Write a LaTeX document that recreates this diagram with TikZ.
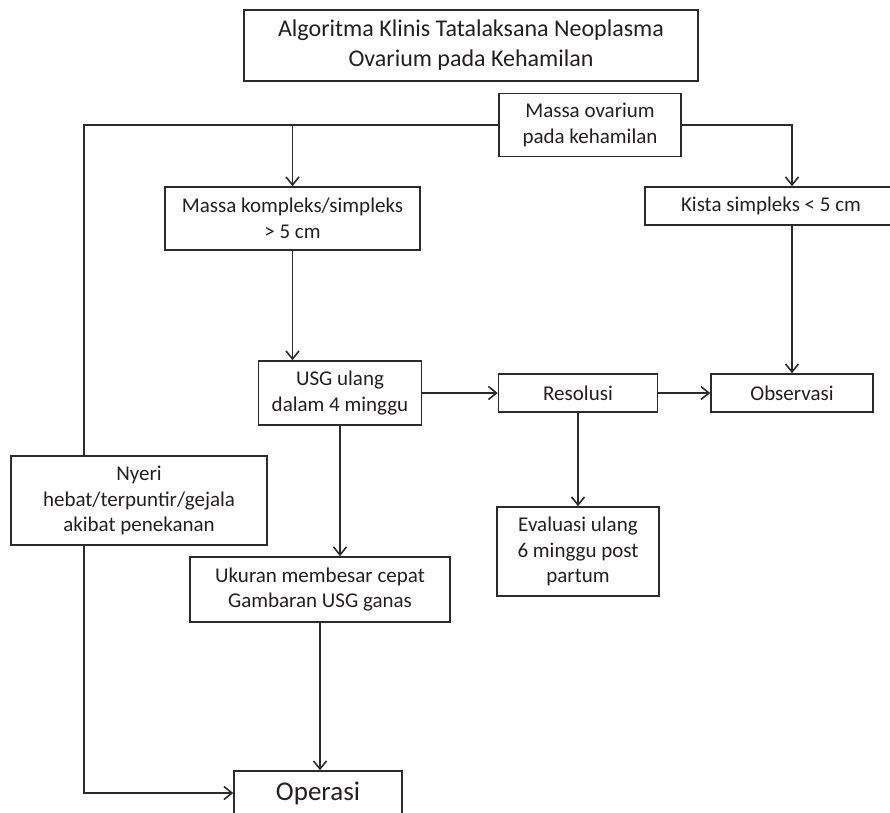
\documentclass[tikz,border=0pt]{standalone}
\usepackage{fontspec}
\setmainfont{Carlito}
\usetikzlibrary{arrows.meta,calc}
\definecolor{ln}{HTML}{2B2B2B}
\definecolor{tx}{HTML}{231F20}
\tikzset{
  box/.style={draw=ln, line width=1.6pt, rectangle, align=center, inner sep=0pt,
    text=tx, font=\fontsize{21}{25.5}\selectfont},
  arr/.style={draw=ln, line width=1.6pt, -{Straight Barb[length=8pt,width=13pt,line width=1.6pt]}},
  ln/.style={draw=ln, line width=1.6pt},
}
\begin{document}
\begin{tikzpicture}[x=1pt,y=-1pt]
\useasboundingbox (0,0) rectangle (890,812);
\clip (0,0) rectangle (890,812);
\node[box, minimum width=454pt, minimum height=71pt, font=\fontsize{24}{30}\selectfont] (ti) at (471,45.5) {Algoritma Klinis Tatalaksana Neoplasma\\Ovarium pada Kehamilan};
\node[box, minimum width=182pt, minimum height=63pt] (mo) at (590,125) {Massa ovarium\\pada kehamilan};
\node[box, minimum width=255pt, minimum height=63pt] (mk) at (292.5,218.5) {Massa kompleks/simpleks\\> 5 cm};
\node[box, minimum width=252pt, minimum height=38pt] (ks) at (771,206) {Kista simpleks < 5 cm};
\node[box, minimum width=163pt, minimum height=64pt] (us) at (340,393) {USG ulang\\dalam 4 minggu};
\node[box, minimum width=159pt, minimum height=38pt] (re) at (578,393) {Resolusi};
\node[box, minimum width=162pt, minimum height=38pt] (ob) at (792,393) {Observasi};
\node[box, minimum width=256pt, minimum height=89pt] (ny) at (139,500.5) {Nyeri\\hebat/terpuntir/gejala\\akibat penekanan};
\node[box, minimum width=162pt, minimum height=89pt] (ev) at (578,551.5) {Evaluasi ulang\\6 minggu post\\partum};
\node[box, minimum width=260pt, minimum height=65pt] (uk) at (320,589.5) {Ukuran membesar cepat\\Gambaran USG ganas};
\node[box, minimum width=168pt, minimum height=44pt, font=\fontsize{27}{32}\selectfont] (op) at (318,793) {Operasi};
\coordinate (L) at (84,0);
% connectors
\draw[ln] (mo.west) -| (L |- ny.north);
\draw[arr] (mo.west) -| (mk.north);
\draw[arr] (mo.east) -| (ob.north |- ks.north);
\draw[arr] (ob.north |- ks.south) -- (ob.north);
\draw[arr] (mk.south) -- (mk.south |- us.north);
\draw[arr] (us.east) -- (re.west);
\draw[arr] (re.east) -- (ob.west);
\draw[arr] (re.south) -- (ev.north);
\draw[arr] (us.south) -- (us.south |- uk.north);
\draw[arr] (uk.south) -- (uk.south |- op.north);
\draw[arr] (L |- ny.south) |- (op.west);
\end{tikzpicture}
\end{document}
